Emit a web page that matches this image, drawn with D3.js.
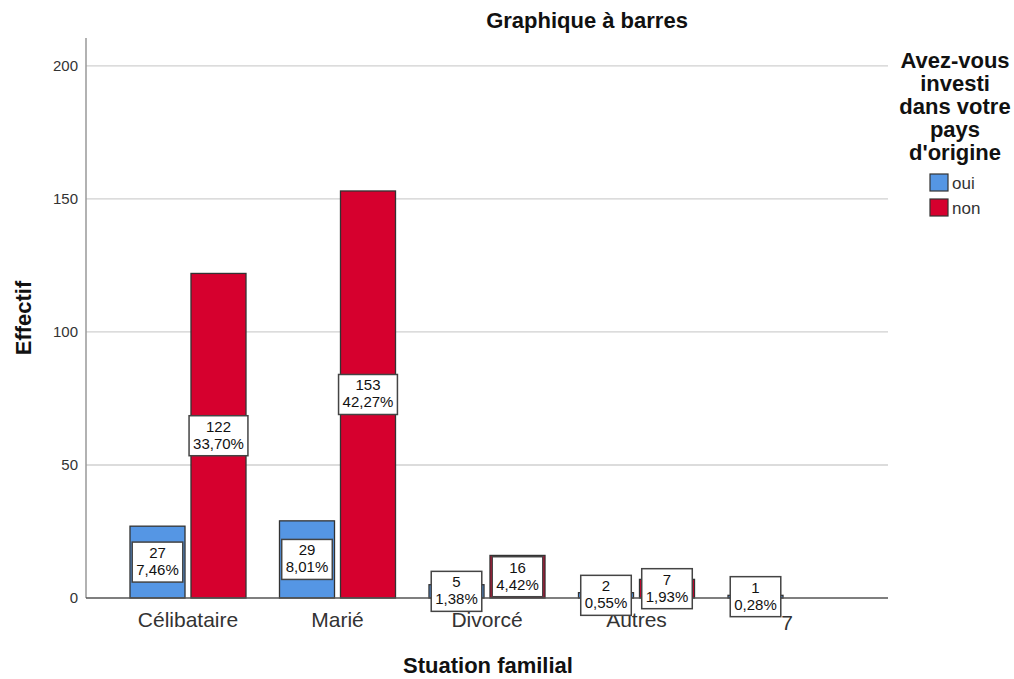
<!DOCTYPE html>
<html>
<head>
<meta charset="utf-8">
<script src="https://cdn.jsdelivr.net/npm/d3@7"></script>
<style>
  body { margin: 0; background: #fff; }
  svg { display: block; font-family: "Liberation Sans", Arial, sans-serif; }
</style>
</head>
<body>
<svg id="chart" width="1014" height="679"></svg>
<script>
const categories = ["Célibataire", "Marié", "Divorcé", "Autres", "7"];
const seriesNames = ["oui", "non"];
const ouiValues = [27, 29, 5, 2, 1];
const nonValues = [122, 153, 16, 7, null];
const ouiPercents = ["7,46%", "8,01%", "1,38%", "0,55%", "0,28%"];
const nonPercents = ["33,70%", "42,27%", "4,42%", "1,93%", null];
const yTicks = [0, 50, 100, 150, 200];
const colors = { oui: "#5596e4", non: "#d6002e" };

const svg = d3.select("#chart");
const plotLeft = 86, plotRight = 888, plotTop = 38, plotBottom = 598;

const y = d3.scaleLinear().domain([0, 210.5]).range([plotBottom, plotTop]);
const x0 = d3.scaleBand().domain(categories).range([96.5, 877.5])
  .paddingInner(0.224).paddingOuter(0.224);
const x1 = d3.scaleBand().domain(seriesNames).range([0, x0.bandwidth()])
  .paddingInner(0.098);

// gridlines
svg.append("g").selectAll("line").data(yTicks.filter(d => d > 0)).join("line")
  .attr("x1", plotLeft).attr("x2", plotRight)
  .attr("y1", d => y(d)).attr("y2", d => y(d))
  .attr("stroke", "#d0d0d0").attr("stroke-width", 1.3);

// y axis
const yAxis = svg.append("g").attr("transform", `translate(${plotLeft},0)`)
  .call(d3.axisLeft(y).tickValues(yTicks).tickSize(0).tickPadding(8));
yAxis.select(".domain").remove();
yAxis.selectAll("text").attr("font-size", 15).attr("fill", "#333")
  .attr("font-family", "Liberation Sans, Arial, sans-serif");
svg.append("line").attr("x1", plotLeft).attr("x2", plotLeft)
  .attr("y1", plotTop).attr("y2", plotBottom)
  .attr("stroke", "#999").attr("stroke-width", 1.5);

// data rows
const rows = [];
categories.forEach((c, i) => {
  rows.push({ cat: c, s: "oui", v: ouiValues[i], p: ouiPercents[i] });
  if (nonValues[i] != null) rows.push({ cat: c, s: "non", v: nonValues[i], p: nonPercents[i] });
});

// bars
svg.append("g").selectAll("rect").data(rows).join("rect")
  .attr("x", d => x0(d.cat) + x1(d.s))
  .attr("width", x1.bandwidth())
  .attr("y", d => y(d.v))
  .attr("height", d => y(0) - y(d.v))
  .attr("fill", d => colors[d.s])
  .attr("stroke", "#333").attr("stroke-width", 1.3);

// x axis baseline
svg.append("line").attr("x1", plotLeft).attr("x2", plotRight)
  .attr("y1", y(0)).attr("y2", y(0))
  .attr("stroke", "#555").attr("stroke-width", 1.3);

// category labels
const xAxis = svg.append("g").attr("transform", `translate(0,${plotBottom})`)
  .call(d3.axisBottom(x0).tickSize(0).tickPadding(14));
xAxis.select(".domain").remove();
xAxis.selectAll("text").attr("font-size", 21).attr("fill", "#333")
  .attr("font-family", "Liberation Sans, Arial, sans-serif");
// "7" label shifted right like the original
xAxis.selectAll(".tick").filter(d => d === "7").select("text")
  .attr("dx", 1).attr("dy", "0.85em");

// value labels
const lbl = svg.append("g").selectAll("g").data(rows).join("g")
  .attr("transform", d => `translate(${x0(d.cat) + x1(d.s) + x1.bandwidth() / 2},${(y(d.v) + y(0)) / 2})`);
lbl.each(function (d) {
  const g = d3.select(this);
  const t1 = g.append("text").attr("text-anchor", "middle").attr("y", -4)
    .attr("font-size", 15).attr("fill", "#111").text(d.v);
  const t2 = g.append("text").attr("text-anchor", "middle").attr("y", 13)
    .attr("font-size", 15).attr("fill", "#111").text(d.p);
  const w = Math.max(t1.node().getComputedTextLength(), t2.node().getComputedTextLength()) + 8;
  g.insert("rect", "text").attr("x", -w / 2).attr("y", -20).attr("width", w).attr("height", 40)
    .attr("fill", "#fff").attr("stroke", "#444").attr("stroke-width", 1.5);
});

// title
svg.append("text").attr("x", 587).attr("y", 28).attr("text-anchor", "middle")
  .attr("font-size", 22).attr("font-weight", "bold").attr("fill", "#111")
  .text("Graphique à barres");

// axis titles
svg.append("text").attr("transform", "translate(31,318) rotate(-90)")
  .attr("text-anchor", "middle").attr("font-size", 22).attr("font-weight", "bold")
  .attr("fill", "#111").text("Effectif");
svg.append("text").attr("x", 488).attr("y", 673).attr("text-anchor", "middle")
  .attr("font-size", 22).attr("font-weight", "bold").attr("fill", "#111")
  .text("Stuation familial");

// legend
const legendTitle = ["Avez-vous", "investi", "dans votre", "pays", "d'origine"];
svg.append("g").selectAll("text").data(legendTitle).join("text")
  .attr("x", 955).attr("y", (d, i) => 68 + i * 23).attr("text-anchor", "middle")
  .attr("font-size", 22).attr("font-weight", "bold").attr("fill", "#111")
  .text(d => d);
const leg = svg.append("g").selectAll("g").data(seriesNames).join("g")
  .attr("transform", (d, i) => `translate(930,${174 + i * 25})`);
leg.append("rect").attr("width", 18).attr("height", 17)
  .attr("fill", d => colors[d]).attr("stroke", "#333").attr("stroke-width", 1.2);
leg.append("text").attr("x", 22).attr("y", 15).attr("font-size", 17)
  .attr("fill", "#333").text(d => d);
</script>
</body>
</html>
